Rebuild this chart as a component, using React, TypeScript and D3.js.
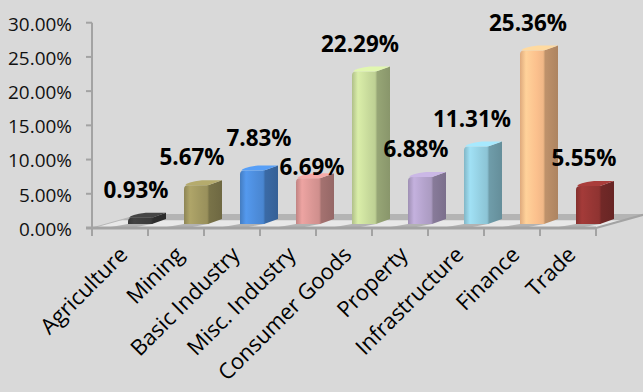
import React, { useMemo } from 'react';
import * as d3 from 'd3';

// ---------- data ----------
const categories = [
  'Agriculture',
  'Mining',
  'Basic Industry',
  'Misc. Industry',
  'Consumer Goods',
  'Property',
  'Infrastructure',
  'Finance',
  'Trade',
];
const values = [0.93, 5.67, 7.83, 6.69, 22.29, 6.88, 11.31, 25.36, 5.55];
const yTicks = [0, 5, 10, 15, 20, 25, 30];

// ---------- styles / layout ----------
const barColors = ['#3d3d3d', '#a09760', '#4d8cda', '#d99694', '#c7da9b', '#b3a2cb', '#93cee0', '#fbc08d', '#963634'];
// manual nudges of the two data labels that the original moved apart
const labelNudge: [number, number][] = [[0, 0], [0, 0], [11, -5], [8, 17], [0, 0], [0, 0], [0, 0], [0, 0], [0, 0]];

const W = 643;
const H = 392;
const FONT = '"Open Sans", "Noto Sans", sans-serif';
const BG = '#d9d9d9';
const AXIS = '#a3a3a3';

function fitSize(text: string, weight: string, target: number): number {
  try {
    const ctx = document.createElement('canvas').getContext('2d');
    if (!ctx) return 20;
    ctx.font = `${weight} 100px "Open Sans"`;
    const w = ctx.measureText(text).width;
    return (100 * target) / w;
  } catch (e) {
    return 20;
  }
}

export default function App() {
  const x = d3.scaleBand<string>().domain(categories).range([92, 596]).padding(0);
  const y = d3.scaleLinear().domain([0, 30]).range([228, 22.7]);

  const sizes = useMemo(
    () => ({
      tick: fitSize('30.00%', 'normal', 64),
      value: fitSize('22.29%', 'bold', 78),
      cat: fitSize('Consumer Goods', 'normal', 178),
    }),
    []
  );

  const fmt = (v: number) => d3.format('.2f')(v) + '%';

  // floor geometry (front-left, front-right, depth vector)
  const fx0 = x.range()[0];
  const fx1 = x.range()[1];
  const fy = y(0);
  const ddx = 50;
  const ddy = -14;

  // bar geometry
  const barOffset = 36;
  const barW = 24;
  const sdx = 14;
  const sdy = -5;
  const base = fy - 4;

  const floorPoly = [
    [fx0, fy],
    [fx1, fy],
    [fx1 + ddx, fy + ddy],
    [fx0 + ddx, fy + ddy],
  ];
  const backStrip = [
    [fx0 + ddx * 0.55, fy + ddy * 0.55],
    [fx1 + ddx * 0.55, fy + ddy * 0.55],
    [fx1 + ddx, fy + ddy],
    [fx0 + ddx, fy + ddy],
  ];
  const pts = (p: number[][]) => p.map((q) => q.join(',')).join(' ');

  return (
    <svg
      width={W}
      height={H}
      viewBox={`0 0 ${W} ${H}`}
      style={{ position: 'absolute', left: 0, top: 0, display: 'block' }}
      fontFamily={FONT}
    >
      <defs>
        {barColors.map((c, i) => {
          const col = d3.color(c)!;
          return (
            <React.Fragment key={i}>
              <linearGradient id={`front${i}`} x1="0" x2="1" y1="0" y2="0">
                <stop offset="0" stopColor={col.darker(0.35).formatHex()} />
                <stop offset="0.25" stopColor={col.brighter(0.25).formatHex()} />
                <stop offset="0.7" stopColor={col.formatHex()} />
                <stop offset="1" stopColor={col.darker(0.15).formatHex()} />
              </linearGradient>
              <linearGradient id={`side${i}`} x1="0" x2="1" y1="0" y2="0">
                <stop offset="0" stopColor={col.darker(0.75).formatHex()} />
                <stop offset="1" stopColor={col.darker(1.05).formatHex()} />
              </linearGradient>
            </React.Fragment>
          );
        })}
      </defs>

      <rect x={0} y={0} width={W} height={H} fill={BG} />

      {/* floor */}
      <polygon points={pts(floorPoly)} fill="#e8e8e8" />
      <polygon points={pts(backStrip)} fill="#b4b4b4" />
      {/* bar shadows on floor */}
      {categories.map((c, i) => {
        const bx = (x(c) as number) + barOffset;
        const p = [
          [bx, base],
          [bx - 20, fy - 0.5],
          [bx + 6, fy - 0.5],
          [bx + barW, base],
        ];
        return <polygon key={`sh${i}`} points={pts(p)} fill="#b2b2b2" />;
      })}
      <line x1={fx0} y1={fy} x2={fx0 + ddx} y2={fy + ddy} stroke="#b8b8b8" strokeWidth={1} />
      <line x1={fx1} y1={fy} x2={fx1 + ddx} y2={fy + ddy} stroke={AXIS} strokeWidth={2} />
      <line x1={fx0 - 6} y1={fy} x2={fx1} y2={fy} stroke={AXIS} strokeWidth={3} />

      {/* category ticks */}
      {d3.range(categories.length + 1).map((i) => {
        const tx = fx0 + x.bandwidth() * i;
        return <line key={`ct${i}`} x1={tx} y1={fy} x2={tx} y2={fy + 8} stroke={AXIS} strokeWidth={2} />;
      })}

      {/* value axis */}
      <line x1={fx0} y1={y(30)} x2={fx0} y2={fy} stroke={AXIS} strokeWidth={2} />
      {yTicks.map((t) => (
        <g key={`yt${t}`}>
          <line x1={fx0 - 6} y1={y(t)} x2={fx0} y2={y(t)} stroke={AXIS} strokeWidth={2} />
          <text
            x={72}
            y={y(t) + 1 + sizes.tick * 0.36}
            textAnchor="end"
            fontSize={sizes.tick}
            fill="#111"
          >
            {fmt(t)}
          </text>
        </g>
      ))}

      {/* bars */}
      {categories.map((c, i) => {
        const bx = (x(c) as number) + barOffset;
        const top = y(values[i]) - 4;
        const h = base - top;
        const r = Math.min(4, h * 0.6);
        const col = d3.color(barColors[i])!;
        const front = `M${bx},${base} L${bx},${top + r} Q${bx},${top} ${bx + r},${top} L${bx + barW},${top} L${bx + barW},${base} Z`;
        const side = [
          [bx + barW, base],
          [bx + barW, top],
          [bx + barW + sdx, top + sdy],
          [bx + barW + sdx, base + sdy],
        ];
        const topFace = `M${bx + r * 0.3},${top} L${bx + barW},${top} L${bx + barW + sdx},${top + sdy} L${bx + sdx + r},${top + sdy} Q${bx + r * 0.6},${top + sdy * 0.6} ${bx + r * 0.3},${top} Z`;
        return (
          <g key={`bar${i}`}>
            <polygon points={pts(side)} fill={`url(#side${i})`} />
            <path d={front} fill={`url(#front${i})`} />
            <path d={topFace} fill={col.brighter(0.35).formatHex()} />
            <line
              x1={bx + barW}
              y1={top}
              x2={bx + barW}
              y2={base}
              stroke={col.darker(0.3).formatHex()}
              strokeWidth={1}
            />
          </g>
        );
      })}

      {/* data labels */}
      {categories.map((c, i) => {
        const cx = (x(c) as number) + 44 + labelNudge[i][0];
        const cy = y(values[i]) - 32 + labelNudge[i][1];
        return (
          <text
            key={`vl${i}`}
            x={cx}
            y={cy + sizes.value * 0.36}
            textAnchor="middle"
            fontSize={sizes.value}
            fontWeight="bold"
            fill="#000"
          >
            {fmt(values[i])}
          </text>
        );
      })}

      {/* category labels */}
      {categories.map((c, i) => {
        const ax = (x(c) as number) + x.bandwidth() / 2 + 9;
        const ay = 256;
        return (
          <text
            key={`cl${i}`}
            transform={`translate(${ax},${ay}) rotate(-45)`}
            textAnchor="end"
            fontSize={sizes.cat}
            fill="#000"
          >
            {c}
          </text>
        );
      })}
    </svg>
  );
}
